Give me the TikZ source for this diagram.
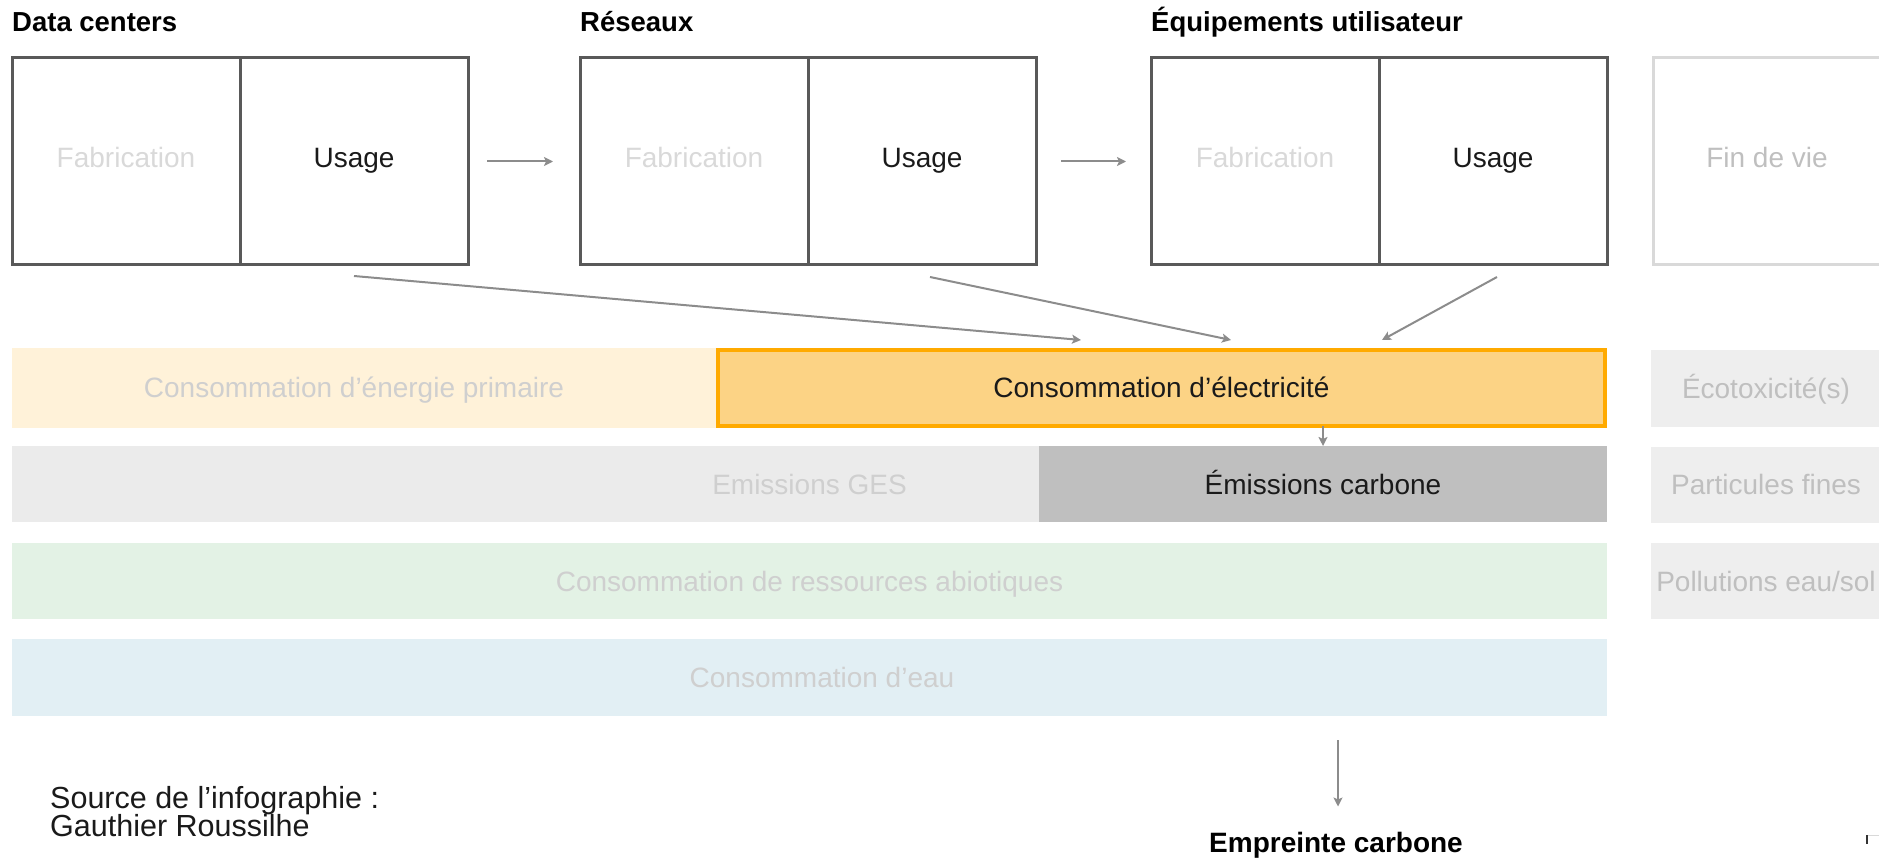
\documentclass[tikz,border=0pt]{standalone}
\usepackage{fontspec}
\setmainfont{Liberation Sans}
\usepackage{tikz}
\usetikzlibrary{positioning,arrows.meta}

\definecolor{boxline}{HTML}{595959}
\definecolor{fadetext}{HTML}{D9D9D9}
\definecolor{fadeline}{HTML}{D9D9D9}
\definecolor{rowfade}{HTML}{CFCFCF}
\definecolor{sidetext}{HTML}{BFBFBF}
\definecolor{linkgray}{HTML}{8C8C8C}
\definecolor{maintext}{HTML}{1A1A1A}
\definecolor{energylight}{HTML}{FFF2D9}
\definecolor{elecfill}{HTML}{FCD385}
\definecolor{elecline}{HTML}{FFAA00}
\definecolor{geslight}{HTML}{EBEBEB}
\definecolor{carbonfill}{HTML}{BFBFBF}
\definecolor{abiolight}{HTML}{E3F2E5}
\definecolor{waterlight}{HTML}{E2EFF4}
\definecolor{sidegray}{HTML}{EEEEEE}

\newcommand{\sourcefont}{\fontsize{30.5}{27.5}\selectfont\lineskiplimit=-50pt\relax}

\tikzset{
  basefont/.style={font=\fontsize{28}{32}\selectfont},
  stage/.style={basefont, draw=boxline, line width=3pt, minimum width=228pt,
    minimum height=207pt, inner sep=0pt, outer sep=0pt, text=maintext,
    text height=20pt, text depth=7pt},
  faded/.style={stage, text=fadetext},
  stagetitle/.style={font=\bfseries\fontsize{27.5}{32}\selectfont,
    anchor=base west, inner sep=0pt, text=black},
  bar/.style={basefont, minimum height=76pt, inner sep=0pt, outer sep=0pt,
    text height=20pt, text depth=0pt, text=rowfade},
  barlabel/.style={basefont, inner sep=0pt, text height=20pt, text depth=0pt},
  side/.style={bar, fill=sidegray, minimum width=230pt, text=sidetext},
  link/.style={draw=linkgray, line width=2pt, -{Stealth[length=9pt,width=9pt,inset=2pt]}},
}

\begin{document}
\begin{tikzpicture}[x=1pt,y=-1pt]
\useasboundingbox (0,0) rectangle (1879,858);

% Life cycle stages
\node[faded] (dcfab) at (126,161.5) {Fabrication};
\node[stage, right=0pt of dcfab] (dcuse) {Usage};
\node[faded] (netfab) at (694,161.5) {Fabrication};
\node[stage, right=0pt of netfab] (netuse) {Usage};
\node[faded] (eqfab) at (1265,161.5) {Fabrication};
\node[stage, right=0pt of eqfab] (equse) {Usage};
\node[faded, draw=fadeline, text=sidetext] (endlife) at (1767,161.5) {Fin de vie};

\node[stagetitle] (dctitle) at ([yshift=26pt]dcfab.north west) {Data centers};
\node[stagetitle] (nettitle) at ([yshift=26pt]netfab.north west) {Réseaux};
\node[stagetitle] (eqtitle) at ([yshift=26pt]eqfab.north west) {Équipements utilisateur};

% Impact rows
\node[bar, fill=energylight, minimum width=1595pt, minimum height=80pt] (energy) at (809.5,388) {};
\node[barlabel, text=rowfade] (energylabel) at (354,388) {Consommation d’énergie primaire};
\node[bar, fill=elecfill, draw=elecline, line width=4pt, minimum width=887pt,
  text=maintext] (elec) at (1161.5,388) {Consommation d’électricité};

\node[bar, fill=geslight, minimum width=1595pt] (ges) at (809.5,484) {Emissions GES};
\node[bar, fill=carbonfill, minimum width=568pt, text=maintext] (carbon) at (1323,484) {Émissions carbone};

\node[bar, fill=abiolight, minimum width=1595pt] (abio) at (809.5,581) {Consommation de ressources abiotiques};

\node[bar, fill=waterlight, minimum width=1595pt, minimum height=77pt] (water) at (809.5,677.5) {};
\node[barlabel, text=rowfade] (waterlabel) at (822,677.5) {Consommation d’eau};

\node[side] (ecotox) at (1766,388.5) {Écotoxicité(s)};
\node[side] (particles) at (1766,484.5) {Particules fines};
\node[side] (pollution) at (1766,581) {Pollutions eau/sol};

% Result and source
\node[font=\bfseries\fontsize{28}{32}\selectfont, anchor=base, inner sep=0pt,
  text=black] (footprint) at (1336,852) {Empreinte carbone};
\node[font=\sourcefont, anchor=base west, inner sep=0pt, align=left,
  text=maintext] (source) at (50,836) {Source de l’infographie :\\Gauthier Roussilhe};

\coordinate (in1) at (1081,340);
\coordinate (in2) at (1231,340);
\coordinate (in3) at (1382,340);
\coordinate (flowtop) at (1338,740);

% Connect the nodes
\draw[link] ([xshift=19pt]dcuse.east) -- ([xshift=-27pt]netfab.west);
\draw[link] ([xshift=25pt]netuse.east) -- ([xshift=-25pt]eqfab.west);
\draw[link] ([yshift=-11pt]dcuse.south) -- (in1);
\draw[link] ([xshift=8pt,yshift=-12pt]netuse.south) -- (in2);
\draw[link] ([xshift=4pt,yshift=-12pt]equse.south) -- (in3);
\draw[link] (carbon.north |- elec.south) -- (carbon.north);
\draw[link, shorten >=25pt] (flowtop) -- (flowtop |- footprint.north);

% stray mark
\draw[black!80, line width=2pt] (1867,835) -- (1867,844);
\draw[black!15, line width=1pt] (1868,835) -- (1879,835);
\end{tikzpicture}
\end{document}
